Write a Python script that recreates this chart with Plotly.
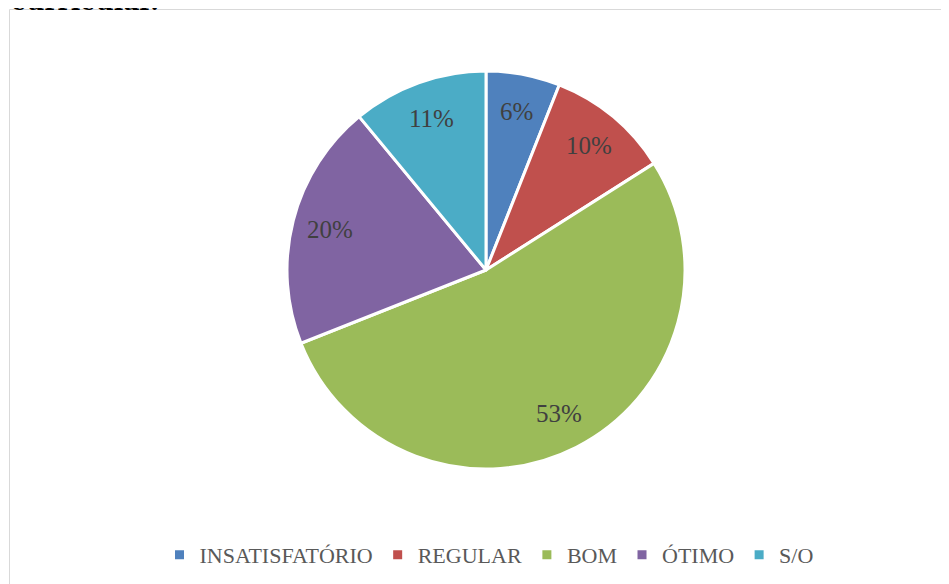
import math
import plotly.graph_objects as go

# Avaliação - distribuição das respostas
categorias = ["INSATISFATÓRIO", "REGULAR", "BOM", "ÓTIMO", "S/O"]
percentuais = [6, 10, 53, 20, 11]
cores = ["#4F81BD", "#C0504D", "#9BBB59", "#8064A2", "#4BACC6"]

# a página tem 8px de margem no corpo, então a figura ocupa o resto da janela
W, H = 941, 576

# posição do gráfico de pizza (px dentro da figura)
CX, CY, R = 478, 262, 199

fig = go.Figure(
    go.Pie(
        labels=categorias,
        values=percentuais,
        sort=False,
        direction="clockwise",
        rotation=0,
        marker=dict(colors=cores, line=dict(color="white", width=3)),
        textinfo="none",
        domain=dict(x=[(CX - R) / W, (CX + R) / W], y=[1 - (CY + R) / H, 1 - (CY - R) / H]),
        hovertemplate="%{label}: %{value}%<extra></extra>",
    )
)

# rótulos de percentual no estilo do Excel (~80% do raio, na bissetriz da fatia)
total = sum(percentuais)
acum = 0
for v in percentuais:
    ang = 2 * math.pi * (acum + v / 2) / total
    acum += v
    px_ = CX + 0.81 * R * math.sin(ang)
    py_ = CY - 0.81 * R * math.cos(ang)
    fig.add_annotation(
        text=f"{v}%", xref="paper", yref="paper",
        x=px_ / W, y=1 - py_ / H, xanchor="center", yanchor="middle",
        showarrow=False, font=dict(family="Liberation Serif", size=25, color="#404040"),
    )

# borda da área do gráfico
fig.add_shape(
    type="rect", xref="paper", yref="paper",
    x0=1.5 / W, x1=939.5 / W, y0=-0.05, y1=1 - 1.5 / H,
    line=dict(color="#D9D9D9", width=1),
)

# título cortado no topo (só a parte de baixo das letras aparece)
fig.add_annotation(
    text="<b>curricular.</b>", xref="paper", yref="paper",
    x=1 / W, y=1 - 9.5 / H, xanchor="left", yanchor="bottom",
    showarrow=False, font=dict(family="DejaVu Serif", size=25, color="black"),
)

fig.update_layout(
    width=W, height=H,
    margin=dict(l=0, r=0, t=0, b=0),
    paper_bgcolor="white",
    showlegend=True,
    legend=dict(
        orientation="h", x=481 / W, xanchor="center", y=1 - 547 / H, yanchor="middle",
        font=dict(family="Liberation Serif", size=22, color="#595959"),
        itemwidth=30, traceorder="normal",
    ),
)

fig.write_html("out.html")
